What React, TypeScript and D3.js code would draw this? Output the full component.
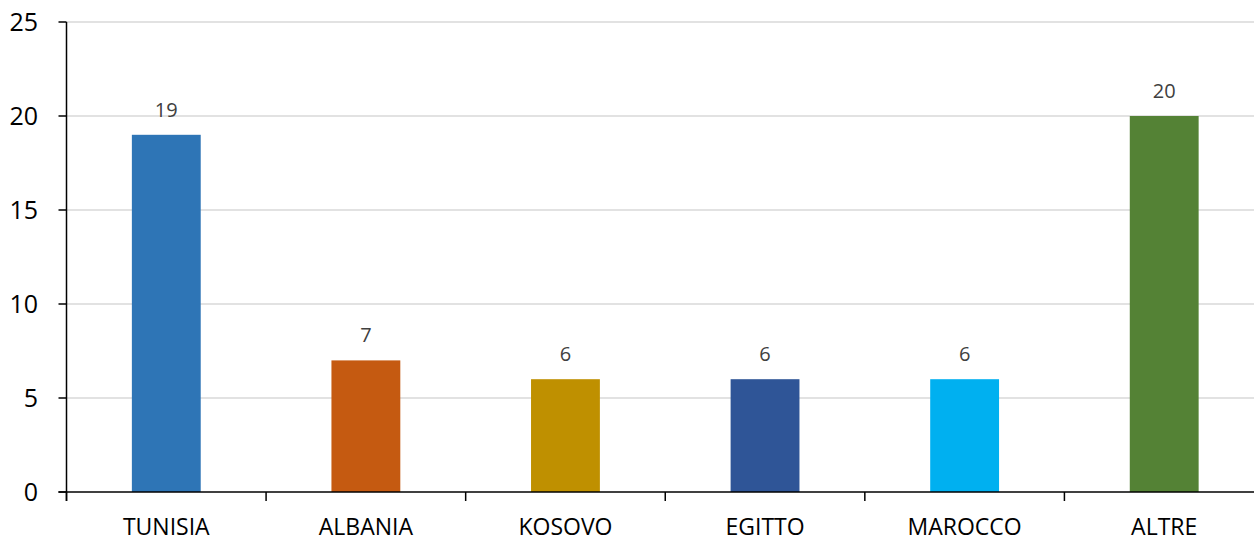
import React from "react";
import * as d3 from "d3";

const categories = ["TUNISIA", "ALBANIA", "KOSOVO", "EGITTO", "MAROCCO", "ALTRE"];
const values = [19, 7, 6, 6, 6, 20];
const barColors = ["#2E75B6", "#C55A11", "#BF9000", "#2F5597", "#00B0F0", "#548235"];
const yTicks = [0, 5, 10, 15, 20, 25];

const W = 1254;
const H = 541;
const left = 66.5;
const right = 1264;
const top = 22;
const bottom = 492;
const font = "'Open Sans', sans-serif";

export default function App() {
  const x = d3.scaleBand<string>().domain(categories).range([left, right]).paddingInner(0.655).paddingOuter(0.3275);
  const bandStep = (right - left) / categories.length;
  const y = d3.scaleLinear().domain([0, 25]).range([bottom, top]);

  return (
    <svg width={W} height={H} style={{ position: "absolute", left: 0, top: 0, background: "#fff" }}>
      {yTicks.filter((t) => t > 0).map((t) => (
        <line key={"g" + t} x1={left} x2={W} y1={y(t)} y2={y(t)} stroke="#d9d9d9" strokeWidth={1.5} />
      ))}
      {categories.map((c, i) => (
        <rect key={c} x={x(c)} y={y(values[i])} width={x.bandwidth()} height={y(0) - y(values[i])} fill={barColors[i]} />
      ))}
      {categories.map((c, i) => (
        <text key={"v" + c} x={x(c)! + x.bandwidth() / 2} y={y(values[i]) - 18} textAnchor="middle"
          fontFamily={font} fontSize={20} fill="#404040">{values[i]}</text>
      ))}
      <line x1={left} x2={left} y1={top} y2={bottom + 9} stroke="#000" strokeWidth={1.5} />
      <line x1={left - 8} x2={W} y1={bottom} y2={bottom} stroke="#000" strokeWidth={1.5} />
      {yTicks.map((t) => (
        <g key={"t" + t}>
          <line x1={left - 8} x2={left} y1={y(t)} y2={y(t)} stroke="#000" strokeWidth={1.5} />
          <text x={38} y={y(t)} dy="0.36em" textAnchor="end" fontFamily={font} fontSize={25} fill="#000">{t}</text>
        </g>
      ))}
      {categories.map((c, i) => (
        <line key={"xt" + c} x1={left + bandStep * i} x2={left + bandStep * i} y1={bottom} y2={bottom + 9} stroke="#000" strokeWidth={1.5} />
      ))}
      {categories.map((c) => (
        <text key={"l" + c} x={x(c)! + x.bandwidth() / 2} y={535} textAnchor="middle"
          fontFamily={font} fontSize={23} fill="#000">{c}</text>
      ))}
    </svg>
  );
}
